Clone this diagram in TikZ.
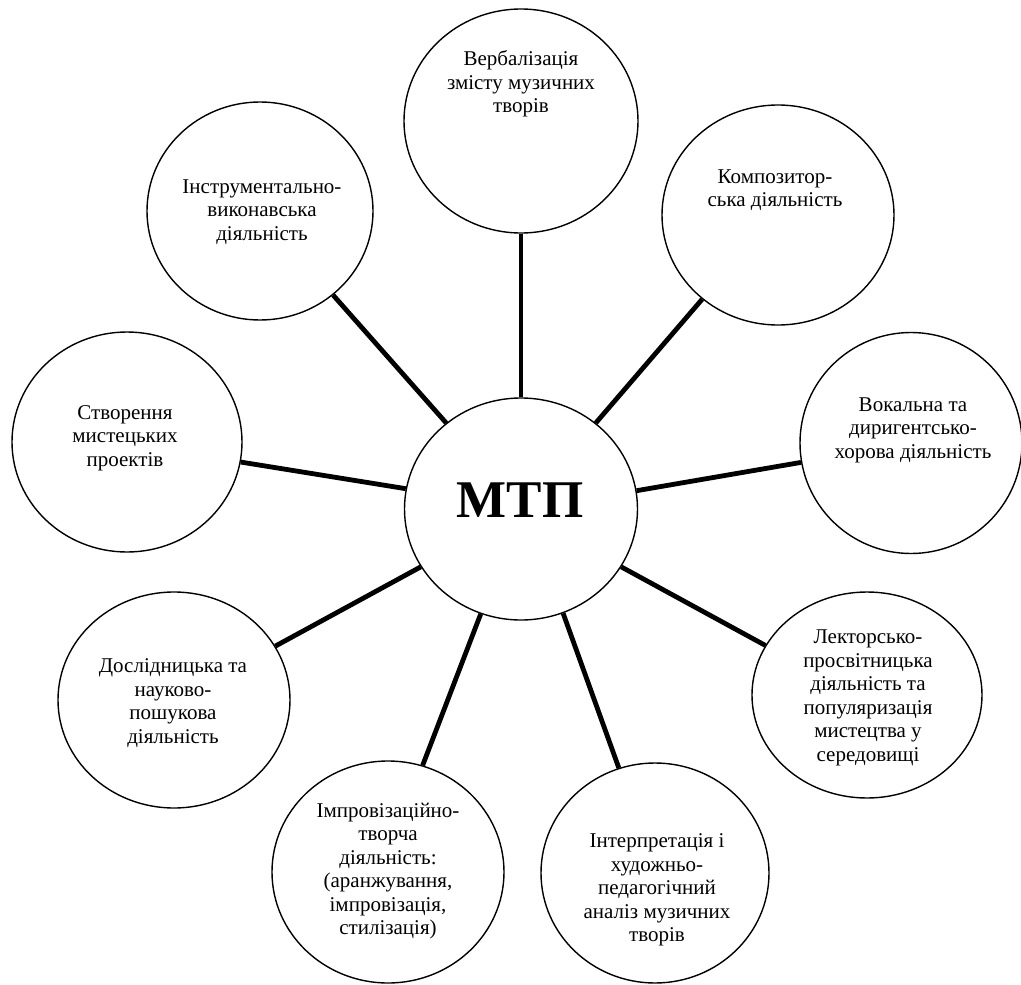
\documentclass[tikz,border=0pt]{standalone}
\usepackage{fontspec}
\setmainfont{Liberation Serif}
\usetikzlibrary{shapes.geometric}
\begin{document}
\begin{tikzpicture}[x=1pt,y=-1pt,
  bubble/.style={ellipse,draw,line width=1.4pt,inner sep=0pt},
  label/.style={align=center,inner sep=0pt,font=\fontsize{21}{23.5}\selectfont},
  link/.style={line width=4.8pt}]
\useasboundingbox (0,0) rectangle (1021,985);
% centre
\node[bubble,minimum width=233pt,minimum height=222pt] (mtp) at (521,509) {};
\node[inner sep=0pt,anchor=base,font=\fontsize{53}{60}\selectfont\bfseries] (mtpt) at (520,517) {МТП};
% outer bubbles
\node[bubble,minimum width=234pt,minimum height=224pt] (verb) at (521,121) {};
\node[bubble,minimum width=226pt,minimum height=218pt] (instr) at (260,211) {};
\node[bubble,minimum width=232pt,minimum height=220pt] (komp) at (778,215) {};
\node[bubble,minimum width=230pt,minimum height=220pt] (stvor) at (127,442) {};
\node[bubble,minimum width=222pt,minimum height=221pt] (vokal) at (911,443) {};
\node[bubble,minimum width=232pt,minimum height=216pt] (dosl) at (174,700) {};
\node[bubble,minimum width=230pt,minimum height=206pt] (lect) at (867,695) {};
\node[bubble,minimum width=232pt,minimum height=222pt] (impr) at (388,872) {};
\node[bubble,minimum width=228pt,minimum height=220pt] (interp) at (655,873) {};
% texts
\node[label] (verbt) at (521,84) {Вербалізація\\змісту музичних\\творів};
\node[label] (instrt) at (262,212) {Інструментально-\\виконавська\\діяльність};
\node[label] (kompt) at (775,190) {Композитор-\\ська діяльність};
\node[label] (stvort) at (125,438) {Створення\\мистецьких\\проектів};
\node[label] (vokalt) at (913,430) {Вокальна та\\диригентсько-\\хорова діяльність};
\node[label] (doslt) at (173,703) {Дослідницька та\\науково-\\пошукова\\діяльність};
\node[label] (lectt) at (868,698) {Лекторсько-\\просвітницька\\діяльність та\\популяризація\\мистецтва у\\середовищі};
\node[label] (imprt) at (388,871) {Імпровізаційно-\\творча\\діяльність:\\(аранжування,\\імпровізація,\\стилізація)};
\node[label] (interpt) at (657,890) {Інтерпретація і\\художньо-\\педагогічний\\аналіз музичних\\творів};
% connectors
\draw[link] (mtp.90) -- (verb.270);
\draw[link] (mtp.131) -- (instr.311);
\draw[link] (mtp.49) -- (komp.228);
\draw[link] (mtp.170) -- (stvor.350);
\draw[link] (mtp.9) -- (vokal.190);
\draw[link] (mtp.210) -- (dosl.28);
\draw[link] (mtp.330) -- (lect.154);
\draw[link] (mtp.249) -- (impr.72);
\draw[link] (mtp.292) -- (interp.109);
\end{tikzpicture}
\end{document}
